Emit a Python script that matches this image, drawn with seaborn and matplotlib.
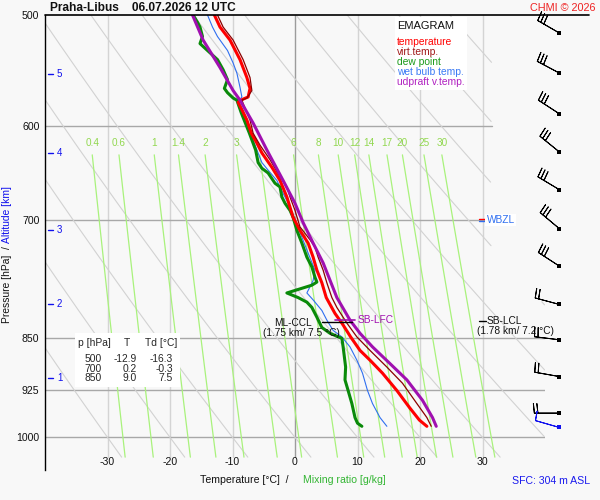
import numpy as np
import pandas as pd
import matplotlib
matplotlib.use('Agg')
import matplotlib.pyplot as plt
import seaborn as sns
from matplotlib.patches import Rectangle
from matplotlib.transforms import blended_transform_factory
from matplotlib.ticker import NullLocator

sns.set_theme(style='white')
plt.rcParams['font.family'] = ['Liberation Sans', 'DejaVu Sans']

# sounding profiles (pressure hPa, temperature degC)
temp_p = [500, 510, 521, 538, 554, 564, 572, 574, 577, 584, 594, 607, 617, 627, 642, 656, 674,
          697, 712, 727, 744, 760, 776, 795, 816, 829, 848, 867, 881, 900, 926, 952, 972, 982]
temp_t = [-12.9, -12.0, -10.4, -8.8, -7.7, -7.2, -7.5, -8.3, -9.1, -8.5, -7.7, -7.0, -6.1, -5.3,
          -3.7, -2.4, -1.3, -0.3, 0.8, 2.1, 2.9, 3.5, 4.3, 5.0, 6.4, 7.5, 8.9, 10.4, 12.0, 14.0,
          16.3, 18.3, 19.9, 21.1]

virt_p = [500, 510, 521, 538, 554, 566, 573, 575, 584, 594, 607, 619, 634, 652, 663, 674, 689,
          708, 723, 732, 744, 760, 776, 795, 808, 829, 848, 867, 891, 915, 946, 968, 982]
virt_t = [-12.4, -11.5, -9.9, -8.3, -7.2, -6.9, -7.7, -8.5, -7.9, -7.2, -6.7, -5.6, -4.0, -2.4,
          -1.3, -0.8, 0.0, 0.8, 2.4, 3.2, 3.7, 4.5, 5.1, 5.9, 6.7, 8.3, 9.9, 12.0, 14.7, 17.2,
          19.5, 21.1, 21.8]

dew_p = [500, 506, 510, 518, 524, 530, 538, 547, 556, 564, 568, 573, 575, 587, 607, 624, 637,
         643, 648, 659, 663, 674, 681, 689, 697, 712, 727, 744, 756, 769, 775, 779, 789, 795,
         801, 808, 821, 835, 843, 850, 862, 891, 910, 926, 946, 968, 977, 982]
dew_t = [-16.3, -15.6, -15.2, -14.8, -15.2, -14.0, -12.4, -11.5, -10.8, -11.3, -10.8, -9.9,
         -9.3, -8.6, -7.3, -6.3, -5.9, -5.3, -4.3, -3.2, -2.4, -2.1, -1.6, -0.8, -0.3, 0.3, 1.1,
         1.9, 2.7, 3.2, 3.5, 2.7, -1.3, 0.5, 1.9, 2.7, 3.5, 4.3, 5.6, 7.5, 7.7, 8.1, 8.0, 8.5,
         9.1, 9.6, 10.0, 10.7]

wetb_p = [500, 510, 518, 530, 541, 550, 563, 572, 577, 584, 597, 611, 637, 645, 656, 670, 685,
          700, 720, 739, 760, 773, 789, 798, 812, 825, 839, 848, 862, 881, 900, 926, 946, 968, 982]
wetb_t = [-14.0, -13.2, -12.4, -10.8, -9.9, -9.3, -8.8, -8.5, -9.1, -8.7, -7.6, -6.9, -5.3,
          -4.3, -2.9, -1.9, -0.8, 0.0, 1.1, 2.1, 3.2, 2.9, 1.9, 2.9, 4.3, 5.1, 6.1, 7.5, 8.8,
          9.9, 10.8, 11.6, 12.4, 13.6, 14.7]

updr_p = [500, 521, 545, 566, 575, 597, 624, 656, 681, 703, 727, 751, 795, 825, 843, 862, 886,
          910, 941, 968, 982]
updr_t = [-16.4, -14.7, -12.0, -9.9, -8.8, -6.7, -4.5, -1.9, 0.0, 1.3, 2.9, 4.5, 6.7, 8.8,
          10.4, 12.4, 15.2, 17.9, 20.4, 22.0, 22.6]

# wind barbs (pressure, direction deg, speed kt)
wind_p = [515, 550, 588, 626, 666, 710, 755, 804, 852, 905, 961]
wind_dir = [300, 298, 303, 309, 301, 310, 303, 285, 277, 280, 270]
wind_spd = [30, 30, 30, 30, 30, 30, 30, 20, 20, 20, 20]
sfc_p = [983]
sfc_dir = [286]
sfc_spd = [10]

# background lines
p_levels = [600, 700, 850, 925, 1000]
t_grid = [-30, -20, -10, 10, 20, 30]
theta_c = list(range(-30, 101, 10))
mix_ratios = [0.4, 0.6, 1, 1.4, 2, 3, 4, 6, 8, 10, 12, 14, 17, 20, 25, 30]
mix_labels = ['0.4', '0.6', '1', '1.4', '2', '3', '', '6', '8', '10', '12', '14', '17', '20', '25', '30']
alt_km = [1, 2, 3, 4, 5]
alt_p = [907.6, 803.6, 711.6, 627.0, 550.9]

table_rows = [('500', '-12.9', '-16.3'), ('700', '0.2', '-0.3'), ('850', '9.0', '7.5')]

BG = '#f8f8f8'
P_BOT_GRID = 1033


def right_limit(p):
    return np.where(p < 800, 31.5, 40.0)


def mr_temp(w, p):
    e = w * p / (622.0 + w)
    a = np.log(e / 6.112)
    return 243.5 * a / (17.67 - a)


fig = plt.figure(figsize=(6, 5), dpi=100, facecolor=BG)
ax = fig.add_axes([45 / 600, 30 / 500, 500 / 600, 455 / 500])
ax.set_facecolor(BG)
ax.set_yscale('log')
ax.set_xlim(-40, 40)
ax.set_ylim(1055, 500)

for s in ['top', 'right', 'bottom']:
    ax.spines[s].set_visible(False)
ax.spines['left'].set_color('black')
ax.spines['left'].set_linewidth(1)
ax.plot([-40, 47], [500, 500], color='black', lw=1.2, clip_on=False, zorder=6)

# grid
for t in t_grid:
    ax.plot([t, t], [500, P_BOT_GRID], color='#d4d4d4', lw=1, zorder=1)
ax.plot([0, 0], [500, P_BOT_GRID], color='#9c9c9c', lw=1, zorder=1)
for p in p_levels:
    ax.plot([-40, float(right_limit(np.array(p)))], [p, p], color='#a8a8a8', lw=1, zorder=1)

pp = np.geomspace(500, P_BOT_GRID, 300)
lim = right_limit(pp)
for th in theta_c:
    tt = (th + 273.15) * (pp / 1000.0) ** 0.2857 - 273.15
    tt = np.where(tt > lim, np.nan, tt)
    ax.plot(tt, pp, color='#d2d2d2', lw=0.8, zorder=1)

pm = np.geomspace(629, P_BOT_GRID, 100)
for w, lab in zip(mix_ratios, mix_labels):
    ax.plot(mr_temp(w, pm), pm, color='#a9f27c', lw=0.9, zorder=1.2)
    if lab:
        ax.text(mr_temp(w, 629), 617, lab, color='#92d850', fontsize=7.2, ha='center',
                va='center', zorder=1.3)

# profiles
profiles = [
    (wetb_p, wetb_t, '#2f6ff0', 0.8, 3.0),
    (dew_p, dew_t, '#0a8a0a', 2.2, 3.1),
    (temp_p, temp_t, '#ff0000', 2.2, 3.2),
    (virt_p, virt_t, '#8b0000', 0.9, 3.3),
    (updr_p, updr_t, '#a010b0', 2.2, 3.4),
]
for p_arr, t_arr, col, lw, z in profiles:
    df = pd.DataFrame({'T': t_arr, 'p': p_arr})
    sns.lineplot(data=df, x='T', y='p', sort=False, estimator=None, color=col, lw=lw, ax=ax,
                 zorder=z, legend=False)
ax.set_xlabel('')
ax.set_ylabel('')

# y ticks
ax.yaxis.set_minor_locator(NullLocator())
ax.set_yticks([500] + p_levels)
ax.set_yticklabels(['500', '600', '700', '850', '925', '1000'])
ax.tick_params(axis='y', which='both', length=0, pad=4, labelsize=7.6, labelcolor='#111111')
ax.set_xticks([])
for t in [-30, -20, -10, 0, 10, 20, 30]:
    ax.text(t, 1041, str(t), ha='center', va='center', fontsize=7.6, color='#111111')

# altitude ticks
blend = blended_transform_factory(ax.transAxes, ax.transData)
for km, p in zip(alt_km, alt_p):
    ax.plot([0.006, 0.016], [p, p], color='#1010ee', lw=1, transform=blend, clip_on=False)
    ax.text(0.024, p, str(km), color='#1010ee', fontsize=7, va='center', ha='left', transform=blend)

# levels
ax.plot([4.3, 9.1], [828, 828], color='black', lw=1, zorder=4)
ax.text(2.7, 829, 'ML-CCL', ha='right', va='center', fontsize=7.3, color='#111111', zorder=4)
ax.text(1.0, 843, '(1.75 km/ 7.5 °C)', ha='center', va='center', fontsize=7.3, color='#111111',
        zorder=4)
ax.plot([6.4, 9.6], [825, 825], color='#a010b0', lw=1.2, zorder=4)
ax.text(10.0, 825, 'SB-LFC', ha='left', va='center', fontsize=7.3, color='#a010b0', zorder=4)
ax.plot([29.5, 30.5], [826, 826], color='black', lw=1, zorder=4)
ax.text(30.7, 826, 'SB-LCL', ha='left', va='center', fontsize=7.3, color='#111111', zorder=4)
ax.text(35.2, 840, '(1.78 km/ 7.2 °C)', ha='center', va='center', fontsize=7.3, color='#111111',
        zorder=4)
ax.plot([29.5, 30.5], [698.5, 698.5], color='#ff0000', lw=1, zorder=4)
ax.plot([29.5, 30.5], [701.5, 701.5], color='#2f6ff0', lw=1, zorder=4)
ax.text(30.7, 700, 'WBZL', ha='left', va='center', fontsize=7.3, color='#2f6ff0', zorder=4,
        bbox=dict(facecolor='white', edgecolor='none', pad=1))

# wind barbs
barb_sizes = dict(height=0.38, width=0.08, spacing=0.14)
wd = np.radians(wind_dir)
u = -np.array(wind_spd) * np.sin(wd)
v = -np.array(wind_spd) * np.cos(wd)
xb = [42.3] * len(wind_p)
ax.barbs(xb, wind_p, u, v, length=6, sizes=barb_sizes, color='black', lw=0.7, clip_on=False,
         zorder=6)
ax.scatter(xb, wind_p, marker='s', s=5, color='black', clip_on=False, zorder=6, linewidths=0)
sd = np.radians(sfc_dir)
us = -np.array(sfc_spd) * np.sin(sd)
vs = -np.array(sfc_spd) * np.cos(sd)
ax.barbs([42.3], sfc_p, us, vs, length=6, sizes=barb_sizes, color='#1010ee', lw=0.7,
         clip_on=False, zorder=6)
ax.scatter([42.3], sfc_p, marker='s', s=5, color='#1010ee', clip_on=False, zorder=6, linewidths=0)

# legend box
ax.add_patch(Rectangle((0.70, 0.835), 0.144, 0.16, transform=ax.transAxes, facecolor='white',
                       edgecolor='none', zorder=5))
ax.text(0.704, 0.976, 'EMAGRAM', transform=ax.transAxes, fontsize=8, va='center', zorder=6,
        color='#111111')
legend_items = [('temperature', '#ff0000'), ('virt.temp.', '#a01818'), ('dew point', '#1a9a1a'),
                ('wet bulb temp.', '#3a7af5'), ('udpraft v.temp.', '#b020c0')]
for i, (name, col) in enumerate(legend_items):
    ax.text(0.704, 0.9407 - i * 0.022, name, transform=ax.transAxes, fontsize=7.4, va='center',
            color=col, zorder=6)

# value table
ax.add_patch(Rectangle((0.06, 0.1824), 0.21, 0.119, transform=ax.transAxes, facecolor='white',
                       edgecolor='none', zorder=5))
ax.text(0.066, 0.279, 'p [hPa]', transform=ax.transAxes, fontsize=7.4, va='center', zorder=6)
ax.text(0.164, 0.279, 'T', transform=ax.transAxes, fontsize=7.4, va='center', ha='center', zorder=6)
ax.text(0.200, 0.279, 'Td [°C]', transform=ax.transAxes, fontsize=7.4, va='center', zorder=6)
for i, (pv, tv, tdv) in enumerate(table_rows):
    y = 0.244 - i * 0.021
    ax.text(0.114, y, pv, transform=ax.transAxes, fontsize=7.4, va='center', ha='right', zorder=6)
    ax.text(0.184, y, tv, transform=ax.transAxes, fontsize=7.4, va='center', ha='right', zorder=6)
    ax.text(0.256, y, tdv, transform=ax.transAxes, fontsize=7.4, va='center', ha='right', zorder=6)

# titles and labels
fig.text(50 / 600, 1 - 8 / 500, 'Praha-Libus    06.07.2026 12 UTC', fontsize=8.6, weight='bold',
         va='center', ha='left', color='#111111')
fig.text(596 / 600, 1 - 8 / 500, 'CHMI © 2026', fontsize=7.8, va='center', ha='right',
         color='#ee2222')
fig.text(7 / 600, 1 - 323 / 500, 'Pressure [hPa]  /', rotation=90, va='bottom', ha='center',
         fontsize=7.4, color='#111111')
fig.text(7 / 600, 1 - 243 / 500, 'Altitude [km]', rotation=90, va='bottom', ha='center',
         fontsize=7.4, color='#1010ee')
fig.text(289 / 600, 1 - 480 / 500, 'Temperature [°C]  /', ha='right', va='center', fontsize=7.6,
         color='#111111')
fig.text(303 / 600, 1 - 480 / 500, 'Mixing ratio [g/kg]', ha='left', va='center', fontsize=7.6,
         color='#33b533')
fig.text(590 / 600, 1 - 481 / 500, 'SFC: 304 m ASL', ha='right', va='center', fontsize=7.6,
         color='#1a1aee')

fig.savefig('out.png', dpi=100, facecolor=BG)
